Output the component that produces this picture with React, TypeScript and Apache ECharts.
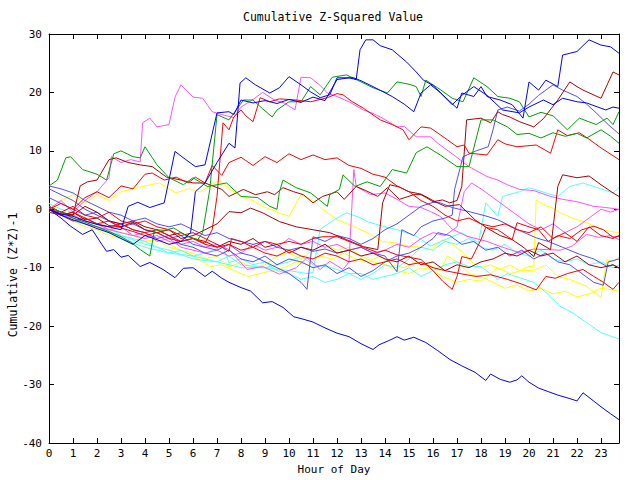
import React, { useEffect, useRef } from "react";
import * as echarts from "echarts";

const TITLE = "Cumulative Z-Squared Value";
const X_NAME = "Hour of Day";
const Y_NAME = "Cumulative (Z*Z)-1";
const X_MIN = 0;
const X_MAX = 23.75;
const Y_MIN = -40;
const Y_MAX = 30;

type Pt = [number, number];

const blueLow: Pt[] = [[0,0],[0.5,-1.5],[0.9,-2.9],[1.4,-4.3],[1.8,-3.5],[2.2,-6],[2.4,-7.2],[2.7,-6.9],[3,-8.2],[3.3,-7.9],[3.8,-9.8],[4.2,-9.1],[4.75,-10.3],[5.25,-11.7],[5.6,-10.1],[6,-10],[6.5,-11.5],[6.8,-10.6],[7.2,-11.8],[7.5,-12.5],[8,-13.4],[8.4,-14],[8.9,-16],[9.3,-15.8],[9.75,-16.8],[10.2,-18.4],[10.5,-18.7],[11,-19.3],[11.5,-20.3],[12,-21.2],[12.5,-21.8],[13,-23],[13.5,-24],[13.75,-23.2],[14.2,-22.4],[14.5,-21.8],[14.8,-22.4],[15.2,-21.9],[15.7,-22.8],[16.2,-24.2],[16.7,-25.7],[17.2,-26.8],[17.75,-27.9],[18.2,-29.3],[18.4,-28.2],[18.8,-29.1],[19.2,-29.6],[19.5,-29.2],[19.7,-28.5],[20,-29.6],[20.4,-30.6],[20.8,-31.2],[21.2,-31.8],[21.7,-32.4],[22,-32.8],[22.25,-31.4],[22.5,-32.2],[23,-33.8],[23.4,-35],[23.75,-36]];
const blueTop1: Pt[] = [[0,0],[0.5,-0.8],[1,-1.2],[1.5,-2],[2,-2.6],[2.5,-3],[3,-3.5],[3.3,0.5],[3.7,1.2],[4.2,0.3],[4.8,1.1],[5.25,9.9],[5.7,8.5],[6.1,7.3],[6.5,7.6],[7,16.5],[7.5,16.7],[7.7,16.2],[8,18.7],[8.5,18.2],[9,18.6],[9.5,18.1],[10,18.8],[10.5,18.3],[11,19.2],[11.5,18.6],[12,22.2],[12.5,22.5],[12.8,22.2],[12.96,27.3],[13.2,29],[13.5,29],[13.8,28],[14.3,27.3],[14.9,25.2],[15.3,23.5],[15.6,22.1],[16,21.2],[16.4,19.6],[17,17.3],[17.2,19.9],[17.7,19.3],[18,21],[18.25,19.3],[18.8,18.7],[19.3,17.9],[19.75,15.6],[20,21.8],[20.4,20.4],[20.7,22.1],[21.2,21],[21.4,26.4],[22,27],[22.5,29],[23,28.1],[23.4,27.8],[23.75,26.7]];
const blueTop2: Pt[] = [[0,0],[0.5,-1],[1,-1.8],[1.5,-2.5],[2,-3.3],[2.5,-4],[3,-5],[3.5,-6],[4,-4.5],[4.5,-5.2],[5,-6],[5.5,-5.5],[5.9,-4],[6.1,3],[6.5,4.5],[7,8],[7.5,11.3],[7.75,10.5],[7.96,21.6],[8.2,22.5],[8.6,21.3],[9.2,19.9],[9.6,20.8],[10,22.7],[10.5,21.3],[10.9,20.1],[11.3,19.1],[11.7,19.6],[12,22.5],[12.7,22.5],[13,22],[13.5,21],[14.3,19.3],[14.8,18],[15.2,16.7],[15.5,19.9],[15.9,21.3],[16.3,20],[16.8,17.9],[17.2,19.5],[17.7,21],[18.25,19.5],[18.9,17],[19.6,16.5],[20,17.5],[20.6,18.7],[21,17.9],[21.4,19],[22,18.4],[22.4,18.2],[23.2,17],[23.5,17.5],[23.75,17.3]];
const slate1: Pt[] = [[0,4],[0.5,3.5],[1,2.8],[1.5,1.5],[2,0.5],[2.5,-0.5],[3,-1],[3.5,-2],[4,-1.5],[4.5,-2.5],[5,-3],[5.5,-2.5],[6,-3.5],[6.5,-4.5],[7,-4],[7.5,-5],[8,-5.5],[8.5,-6],[9,-5.5],[9.5,-6.5],[10,-7],[10.5,-6.5],[11,-7.2],[11.5,-6.8],[12,-7.5],[12.5,-7],[13,-6.5],[13.5,-7.5],[14,-8],[14.5,-10.7],[14.7,-3.5],[15.2,-4.5],[15.5,-3],[16,-2],[16.5,-1.5],[16.8,-1],[16.9,3.4],[17.25,9],[17.8,10],[18.3,10.7],[18.5,13.6],[18.7,17],[19.1,17.5],[19.6,16.8],[20,18],[20.4,19.5],[21,21.3],[21.4,20.4],[22,19.3],[22.4,18],[22.8,16.5],[23.3,14.5],[23.75,12.9]];
const slate2: Pt[] = [[0,3.5],[0.5,2.5],[1,1.5],[1.5,0],[2,-1],[2.5,-2],[3,-3],[3.5,-2.5],[4,-3.5],[4.5,-4],[5,-5],[5.5,-4.5],[6,-6],[6.5,-6.5],[7,-7],[7.5,-6],[8,-7.5],[8.5,-8],[9,-9],[9.5,-10],[10,-11],[10.5,-12.5],[10.75,-13.7],[11,-4.7],[11.5,-5.5],[12,-4.5],[12.5,-5],[13,-6],[13.5,-5],[14,-3.5],[14.5,-2.5],[15,-1],[15.5,0.5],[16,1.2],[16.3,1.1],[16.8,0.3],[17.5,-0.4],[18.25,-1.2],[18.7,-1.8],[19.1,-2.6],[19.7,-3.8],[20.3,-4.9],[20.8,-5.5],[21.4,-6.5],[22.1,-7.7],[22.7,-8.5],[23.25,-9.8],[23.5,-9.5],[23.75,-10.1]];
const slate3: Pt[] = [[0,2],[0.5,1],[1,0],[1.5,-1],[2,-0.5],[2.5,-2],[3,-2.5],[3.5,-3.5],[4,-4],[4.5,-5],[5,-4.5],[5.5,-6],[6,-6.5],[6.5,-7.5],[7,-8],[7.5,-7],[8,-8.5],[8.5,-9],[9,-8],[9.5,-9.5],[10,-8.5],[10.5,-9],[11,-10],[11.5,-9.5],[12,-11],[12.5,-10],[13,-11.5],[13.5,-10.5],[14,-9],[14.5,-8],[15,-7.5],[15.5,-6.5],[16,-5],[16.2,-4],[16.7,-4.5],[17.2,-6],[17.7,-5.5],[18.2,-7],[18.7,-6.5],[19.2,-8],[19.7,-7],[20.2,-8.5],[20.7,-7.5],[21.2,-9],[21.7,-9.5],[22.2,-11],[22.7,-12.5],[23.1,-13],[23.3,-9],[23.75,-8.5]];
const green1: Pt[] = [[0,0.5],[0.5,-0.5],[1,-1.5],[1.5,-2.2],[2,-3],[2.5,-3.8],[3,-4.7],[3.4,-5.6],[3.8,-6.9],[4.2,-8],[4.4,-3.5],[4.8,-3.6],[5.2,-3.2],[5.75,-4.6],[6.2,-5.2],[6.4,-4],[6.7,3.4],[7,16.2],[7.5,15.3],[8.1,18.7],[8.5,18.7],[8.9,17.2],[9.3,15.8],[9.5,17],[10,18.4],[10.5,18.4],[10.9,21],[11.3,19.6],[11.8,22.6],[12.4,23],[13,21.8],[13.5,20.8],[14.1,19.9],[14.5,21.8],[15,21.4],[15.3,21],[15.5,19.3],[15.7,22.1],[16.3,20.5],[16.8,19],[17.25,18.4],[17.7,22.5],[18.25,21],[18.7,19.3],[19.2,19],[19.6,18.4],[20,15.8],[20.5,16.6],[21,16],[21.6,13.6],[22.1,15.6],[22.8,14.5],[23.25,15.6],[23.5,14.5],[23.75,16.7]];
const green2: Pt[] = [[0,4],[0.35,5],[0.7,8.8],[0.9,9],[1.4,6.8],[2,6],[2.4,5],[2.7,9.5],[3,10],[3.5,9],[3.8,8.8],[4,10.7],[4.5,7.6],[5,5.4],[5.6,4.2],[6,5.4],[6.6,3.9],[7,4.2],[7.4,4.5],[8,2.2],[8.7,2],[9.2,0.5],[9.5,0],[9.6,3],[9.75,5],[10.3,3.7],[10.9,2.8],[11.3,1.5],[11.6,0.5],[11.7,2.5],[12.1,3.4],[12.25,5.9],[12.75,3.9],[13.25,4.7],[13.8,3.9],[14.3,6.8],[14.9,6.2],[15.3,9.7],[15.75,10.7],[16.3,9.3],[17,7.3],[17.5,7.3],[18,15.3],[18.5,15.3],[19.1,14.1],[19.5,12.8],[20,13],[20.5,12.2],[21,13.1],[21.5,12.5],[22,13],[22.4,12.2],[23,13.6],[23.4,12.5],[23.75,11.3]];
const red1: Pt[] = [[0,0],[0.5,-1],[1,-0.5],[1.5,-1.5],[2,-2.5],[2.5,-2],[3,-3.2],[3.5,-3.8],[4,-4.5],[4.5,-4],[5,-5],[5.5,-5.5],[6,-5],[6.5,-5.8],[6.8,-3.5],[7,2.2],[7.25,14.8],[7.5,13.6],[7.7,15.8],[8,17],[8.2,16],[8.5,15],[8.8,19.1],[9.2,18.4],[9.6,18.9],[10.3,18.7],[10.9,18.4],[11.3,18.8],[11.6,19.1],[12,19.8],[12.25,19.6],[12.6,18.5],[13.1,17.3],[13.8,15.3],[14.3,14.5],[14.75,13.6],[15,11.9],[15.5,14.1],[15.9,13.9],[16.6,11.9],[17,10.7],[17.3,11],[17.5,9.6],[18.25,9.3],[18.7,11.9],[19,11.2],[19.5,10.7],[20.3,11],[20.9,9.6],[21.2,13.6],[21.6,12.6],[22.1,13.1],[22.5,12],[23,10.5],[23.75,8.5]];
const red2: Pt[] = [[0,0],[0.5,-0.5],[1,0.5],[1.5,-1],[2,-1.5],[2.5,-0.5],[3,-2],[3.5,-2.5],[4,-2],[4.5,-3],[5,-3.5],[5.5,-4.5],[6,-4],[6.5,-5],[7,-6],[7.5,-7.2],[7.6,-5],[8,-5.5],[8.5,-6.5],[9,-5.5],[9.5,-6],[10,-5.5],[10.5,-6],[11,-5],[11.4,-4.7],[12,-4.7],[12.5,-5.5],[13.1,-6.5],[13.7,-7.4],[14,-7],[14.5,-7.8],[15,-8.2],[15.5,-8.6],[16,-10.5],[16.4,-12.3],[16.8,-13.7],[17,-11.5],[17.2,-8.1],[17.6,-8.5],[18,-5.2],[18.2,-3.1],[18.7,-3.5],[19.3,-5.2],[19.5,-2.3],[20,-3],[20.4,-3.5],[20.8,-5.5],[21.2,-4.5],[21.7,-5],[22.2,-3.5],[22.7,-2.9],[23.1,-3.5],[23.5,-4.8],[23.75,-4.6]];
const red3: Pt[] = [[0,-0.5],[0.5,-1],[1,-2],[1.5,-1.5],[2,-2.5],[2.5,-3],[3,-2.5],[3.5,-3.5],[4,-4],[4.5,-3.5],[5,-4.5],[5.5,-5.5],[6,-5],[6.5,-6],[7,-6.5],[7.5,-6],[8,-7],[8.5,-6.5],[9,-7.5],[9.5,-8],[10,-7],[10.5,-8],[11,-8.5],[11.5,-7.5],[12,-8],[12.5,-9],[13,-8.5],[13.5,-9.5],[14,-9],[14.5,-8.5],[15,-9.5],[15.5,-9.1],[16,-10],[16.5,-10.5],[17.25,-11.1],[17.8,-11.5],[18.4,-11.2],[19.1,-12],[19.7,-12.8],[20.3,-13.8],[20.7,-11.5],[21.1,-11.8],[21.6,-11],[22.25,-10.3],[22.7,-11.5],[23.1,-12.5],[23.5,-13.7],[23.75,-12.5]];
const red4: Pt[] = [[0,0],[0.5,1],[1,0],[1.5,2],[2,3],[2.5,2],[3,4],[3.5,3.5],[4,6],[4.3,6.2],[4.8,5],[5.3,5.5],[5.8,4.5],[6.1,5.5],[6.5,4.5],[6.8,7.5],[7.2,5.8],[7.5,8],[8,8.9],[8.5,7.5],[9,9],[9.5,8],[10,9.5],[10.5,8.5],[11,9.3],[11.5,8.5],[12,8.8],[12.5,7.5],[13,7],[13.5,6],[14,5.5],[14.5,4],[15,3],[15.5,1.5],[16,0.5],[16.5,-1],[17,-2],[17.5,-1.5],[18,-2.5],[18.5,-3],[19,-2.5],[19.5,-3.5],[20,-4],[20.5,-3],[21,-5],[21.5,-4],[22,-5.5],[22.5,-3],[23,-4.5],[23.5,-5],[23.75,-4.5]];
const darkRed1: Pt[] = [[0,0],[0.5,-0.8],[1,-1],[1.3,4],[1.6,4.7],[2,5],[2.5,8.5],[2.8,8.8],[3.3,8],[3.8,7.6],[4.3,7.3],[4.9,5.5],[5.5,5],[6,4.5],[6.5,4.5],[7.2,3.4],[7.5,2.2],[8.1,3.4],[8.6,2.5],[9.1,3],[9.4,2.5],[9.75,3.7],[10.2,3],[10.6,2.5],[11,1.1],[11.4,2.2],[12,3],[12.3,1.7],[12.8,3.9],[13.2,3.2],[13.7,2.2],[14.1,3.7],[14.6,1.7],[15.2,2.5],[15.5,2.5],[15.8,1.8],[16,1.3],[16.4,1.6],[16.7,1.1],[17,1.5],[17.2,3.9],[17.4,15.3],[18,15.6],[18.4,14.8],[18.7,16.7],[18.9,16.2],[19.2,15.8],[19.6,15],[20.2,14.1],[20.6,15.5],[21.2,18.7],[21.7,21.8],[22,21],[22.25,20.4],[23,19],[23.5,23.5],[23.75,23]];
const darkRed2: Pt[] = [[0,0],[0.5,-1],[1,-0.5],[1.5,-1.8],[2,-1.5],[2.5,-2.8],[3,-3],[3.5,-2.2],[4,-3.5],[4.5,-4],[5,-3.5],[5.5,-5],[6,-4.5],[6.5,-3.5],[7,-2.5],[7.5,-0.4],[8,-0.6],[8.4,0.2],[8.9,-0.6],[9.6,-2.1],[10.3,-3],[11,-3.5],[11.7,-4],[12.4,-5.2],[13.1,-6.4],[13.7,-6.9],[13.9,1.1],[14.2,4.2],[14.6,3.8],[15,3],[15.5,2.6],[16,1.5],[16.5,0.5],[17.1,0.8],[17.75,-1.8],[18.25,-3.2],[18.8,-4.5],[19.3,-5.2],[19.8,-6.6],[20.2,-8.1],[20.4,-5.7],[20.9,-6.9],[21.2,3.9],[21.4,5.9],[22,5.4],[22.5,5.7],[23,4.2],[23.5,2.8],[23.75,2.2]];
const darkRed3: Pt[] = [[0,0.5],[0.5,-0.5],[1,-1],[1.5,0.5],[2,-0.5],[2.5,-2],[3,-2.5],[3.5,-2],[4,-3],[4.5,-3.5],[5,-4.5],[5.5,-4],[6,-5],[6.5,-5.5],[7,-6.5],[7.5,-5.5],[8,-6],[8.5,-5],[9,-6.5],[9.5,-6],[10,-7.5],[10.5,-6.5],[11,-7],[11.5,-6],[12,-7.5],[12.5,-7],[13,-8],[13.5,-7.5],[14,-8.5],[14.5,-9],[15,-8],[15.5,-9.5],[16,-9],[16.5,-10.5],[17,-9.5],[17.5,-10],[18,-9],[18.5,-8.5],[19,-7.5],[19.5,-8],[20,-7],[20.5,-8],[21,-7.5],[21.5,-9],[22,-8],[22.5,-9.5],[23,-10],[23.5,-9.5],[23.75,-10]];
const magenta1: Pt[] = [[0,0],[0.5,1.5],[1,-0.5],[1.5,1.5],[2,3],[2.5,5.4],[2.6,9],[3,8],[3.4,8.5],[3.8,8.1],[3.9,14.8],[4.2,15.6],[4.5,14.1],[5,14.5],[5.25,19.2],[5.5,21.3],[6,19.2],[6.4,19],[6.8,16.7],[7.2,16.2],[7.7,15.7],[8,17.5],[8.5,18.8],[8.9,20],[9.4,18.7],[9.8,18.2],[10.25,17],[10.5,22.6],[10.9,22.5],[11.3,21.2],[11.6,19.9],[12,19.3],[12.5,18.4],[13.1,17],[13.5,16.4],[13.9,15.6],[14.5,14.1],[14.8,14.2],[15.3,12.4],[15.9,12.4],[16.2,11.3],[16.8,9.5],[17.5,7.3],[18.25,5.6],[18.7,5],[19.1,4.2],[19.6,3.4],[20.2,3.2],[20.9,2.2],[21.4,1.7],[22,1.3],[22.7,0.5],[23.2,0.3],[23.75,0]];
const magenta2: Pt[] = [[0,0],[0.5,-1],[1,-1.5],[1.5,-2.5],[2,-3],[2.5,-3.5],[3,-4],[3.5,-4.5],[4,-5],[4.5,-4.5],[5,-5.5],[5.5,-6],[6,-5.5],[6.5,-6.5],[7,-6],[7.5,-6.9],[8.25,-10.3],[8.9,-9.8],[9.6,-11.1],[10.3,-10],[10.75,-8.3],[11.3,-10.3],[11.7,-8.9],[12.25,-10.3],[12.5,-9],[12.7,6.8],[12.8,3.9],[13.4,2.5],[14,2.8],[14.5,1.7],[15,0.5],[15.5,0.3],[15.9,-0.4],[16.3,-1.2],[16.8,-3.4],[17.4,-4.6],[18.25,-5.5],[18.9,-6.5],[19.6,-7.4],[20.2,-6.8],[20.75,-6.9],[21.3,-7],[21.8,-6.3],[22.4,-4.3],[22.9,-4.8],[23.4,-4.5],[23.75,-5.2]];
const magenta3: Pt[] = [[0,0.5],[0.5,-0.5],[1,-1],[1.5,-2],[2,-2.5],[2.5,-3.5],[3,-3],[3.5,-4.5],[4,-4],[4.5,-5.5],[5,-5],[5.5,-6.5],[6,-7],[6.5,-7.5],[7,-7],[7.5,-8],[8,-7.5],[8.5,-6],[9,-7],[9.5,-6.5],[10,-5],[10.5,-6],[11,-5.5],[11.5,-6.5],[12,-6],[12.5,-7],[13,-6.5],[13.5,-7.5],[14,-7],[14.5,-6],[15,-6.5],[15.5,-5],[16,-4],[16.5,-4.5],[17,-3],[17.3,3],[17.6,4.5],[18,3.5],[18.5,2],[19,0.5],[19.5,-1],[20,-2.5],[20.5,-3.5],[21,-2.5],[21.5,-4],[22,-3],[22.4,-1.8],[23,0],[23.4,-0.5],[23.75,0]];
const cyan1: Pt[] = [[0,0],[1,-1.5],[2,-3],[3,-4.5],[4,-6],[5,-7],[6,-8.5],[7,-9],[7.5,-8],[8,-9.5],[9,-10],[10,-9],[10.5,-8],[11,-9.5],[11.7,-9.9],[12.5,-11],[13,-11],[13.5,-12],[14,-11.5],[14.5,-11],[15,-10],[15.5,-11.5],[16,-10.5],[16.5,-9.5],[17,-9],[17.5,-9.8],[18,-9.8],[18.7,-12],[19.1,-11],[19.6,-11.7],[20.2,-12.5],[20.7,-14.2],[21.3,-16.6],[21.8,-17.7],[22.4,-19.4],[23,-21.1],[23.4,-21.7],[23.75,-22.2]];
const cyan2: Pt[] = [[0,0],[1,-2],[2,-3],[3,-5],[4,-6.5],[5,-7.5],[6,-8],[7,-9],[8,-10],[9,-10],[10,-10.5],[10.75,-11],[11,-10.8],[11.3,-3.4],[12,-1.5],[12.4,-0.6],[13,-1.5],[13.25,-2.1],[14,-3],[14.5,-3.5],[15.3,-4.6],[15.9,-6.3],[16.5,-5.2],[17.2,-4],[17.9,-5.7],[18.2,1.1],[18.7,-1.2],[18.9,2.2],[19.6,3],[20,3.7],[20.7,2.8],[21.2,2.2],[21.7,3.9],[22.25,4.5],[23,3.5],[23.5,2.8],[23.75,3.7]];
const cyan3: Pt[] = [[0,1],[0.5,0],[1,-0.5],[1.5,-1.5],[2,-2.5],[2.5,-3],[3,-4.5],[3.5,-5],[4,-5.5],[4.5,-6.5],[5,-7.5],[5.5,-7],[6,-8],[6.6,-7.4],[7.25,-6.3],[7.5,-9.1],[8,-8.5],[8.5,-9.5],[9,-9],[9.5,-10.5],[10,-11],[10.5,-12],[11,-11.5],[11.5,-12.5],[12,-12],[12.5,-11],[13,-12],[13.5,-11],[14,-9.5],[14.5,-10],[15,-8.5],[15.5,-6.5],[16,-7],[16.5,-5.5],[17,-6],[17.5,-5],[18,-6.5],[18.5,-7],[19,-6],[19.5,-7.5],[20,-8],[20.5,-7],[21,-8.5],[21.5,-9],[22,-8.5],[22.5,-9.5],[23,-9],[23.5,-10],[23.75,-9.5]];
const yellow1: Pt[] = [[0,0],[0.5,1.5],[1,2.5],[1.5,1],[2,2.5],[2.5,1.5],[3,3],[3.5,3.5],[4,4],[4.6,4.5],[5.3,2.8],[5.8,3.5],[6.3,3],[7.1,5],[7.5,3.5],[8,2.2],[8.5,1.5],[8.9,0.5],[9.5,-0.5],[10,-1.2],[10.5,2.5],[11,1.5],[11.4,0],[12,-1.8],[12.5,-2.6],[13,-3.5],[13.4,-4.3],[13.9,-5.5],[14.5,-5.8],[15,-6.3],[15.5,-6.5],[15.9,-6.9],[16.4,-5.2],[16.8,-6],[17.25,-7.4],[17.6,-9],[18,-10],[18.4,-9.5],[18.8,-10.3],[19.2,-9.5],[19.6,-10.5],[20,-9.8],[20.2,-9.8],[20.3,1.6],[20.6,0.8],[21,0.2],[21.3,-0.6],[21.8,-1.5],[22.4,-2.3],[23,-3.4],[23.4,-3.8],[23.75,-4]];
const yellow2: Pt[] = [[0,-0.5],[0.5,-1],[1,-2],[1.5,-3],[2,-3.5],[2.5,-4.5],[3,-5],[3.5,-6],[4,-5.5],[4.5,-5.2],[5,-6.5],[5.5,-7],[6,-7.5],[6.5,-8.5],[7,-8],[7.5,-9.9],[8,-9],[8.5,-10],[9,-9.5],[9.5,-8],[10,-7.5],[10.5,-8.5],[11,-7],[11.5,-6],[12,-7],[12.5,-6.5],[13,-8],[13.5,-9],[14,-9.5],[14.5,-10.5],[15,-11],[15.5,-10],[15.9,-10.3],[16.4,-11.5],[17,-12.5],[17.5,-12],[18,-12.3],[18.7,-10],[19.2,-11],[19.7,-10.5],[20.2,-10.5],[20.7,-9.5],[21.2,-11.5],[21.7,-12],[22.4,-13.2],[23,-15.1],[23.1,-12],[23.25,-8.6],[23.5,-9],[23.75,-8.2]];
const yellow3: Pt[] = [[0,0.5],[0.5,-0.5],[1,-1],[1.5,-2],[2,-2.5],[2.5,-3.5],[3,-4],[3.5,-4.5],[4,-5.5],[4.5,-5.2],[5,-6],[5.6,-7.2],[6.2,-8.5],[6.7,-9.8],[7.2,-9.5],[7.7,-10.5],[8.3,-11.5],[8.8,-11],[9.3,-10.5],[9.8,-10],[10.3,-9],[10.8,-9.5],[11.3,-8],[11.8,-8.5],[12.3,-7.5],[12.8,-8.5],[13.3,-9],[13.8,-8],[14.3,-9.5],[14.8,-10],[15.3,-9],[15.8,-9.5],[16.3,-10.5],[16.6,-8],[17,-9],[17.5,-11],[18,-11.5],[18.5,-12.5],[19,-13.5],[19.5,-13],[20,-14],[20.5,-13.5],[21,-14.5],[21.5,-14],[22,-15],[22.5,-14.5],[23,-13.5],[23.75,-14]];

const BLUE = "#0000ff";
const SLATE = "#5050ff";
const GREEN = "#00a000";
const RED = "#ff0000";
const DARKRED = "#b00000";
const MAGENTA = "#ff50ff";
const CYAN = "#50ffff";
const YELLOW = "#ffff00";

const lines: { data: Pt[]; color: string }[] = [
  { data: yellow3, color: YELLOW },
  { data: yellow2, color: YELLOW },
  { data: yellow1, color: YELLOW },
  { data: cyan3, color: CYAN },
  { data: cyan1, color: CYAN },
  { data: cyan2, color: CYAN },
  { data: magenta3, color: MAGENTA },
  { data: magenta2, color: MAGENTA },
  { data: magenta1, color: MAGENTA },
  { data: slate3, color: SLATE },
  { data: slate2, color: SLATE },
  { data: slate1, color: SLATE },
  { data: darkRed3, color: DARKRED },
  { data: darkRed2, color: DARKRED },
  { data: darkRed1, color: DARKRED },
  { data: red3, color: RED },
  { data: red2, color: RED },
  { data: red4, color: RED },
  { data: red1, color: RED },
  { data: green1, color: GREEN },
  { data: green2, color: GREEN },
  { data: blueTop2, color: BLUE },
  { data: blueTop1, color: BLUE },
  { data: blueLow, color: BLUE },
];

const FONT = "DejaVu Sans Mono";

export default function App() {
  const ref = useRef<HTMLDivElement>(null);
  useEffect(() => {
    if (!ref.current) return;
    const chart = echarts.init(ref.current, null, { renderer: "svg" });
    const axisCommon = {
      type: "value" as const,
      splitLine: { show: false },
      axisLine: { show: true, onZero: false, lineStyle: { color: "#000", width: 1 } },
      axisTick: { show: true, inside: true, length: 5, lineStyle: { color: "#000", width: 1 } },
    };
    chart.setOption({
      animation: false,
      backgroundColor: "#fff",
      grid: { left: 49, right: 21, top: 34, bottom: 36, show: false },
      xAxis: [
        {
          ...axisCommon,
          min: X_MIN,
          max: X_MAX,
          interval: 1,
          position: "bottom",
          axisLabel: {
            margin: 5,
            fontFamily: FONT,
            fontSize: 11,
            color: "#000",
            formatter: (v: number) => (Number.isInteger(v) ? String(v) : ""),
          },
          name: X_NAME,
          nameLocation: "middle",
          nameGap: 21,
          nameTextStyle: { fontFamily: FONT, fontSize: 11, color: "#000" },
        },
        {
          ...axisCommon,
          min: X_MIN,
          max: X_MAX,
          interval: 1,
          position: "top",
          axisLabel: { show: false },
        },
      ],
      yAxis: [
        {
          ...axisCommon,
          min: Y_MIN,
          max: Y_MAX,
          interval: 10,
          position: "left",
          axisLabel: { margin: 7, fontFamily: FONT, fontSize: 11, color: "#000" },
        },
        {
          ...axisCommon,
          min: Y_MIN,
          max: Y_MAX,
          interval: 10,
          position: "right",
          axisLabel: { show: false },
        },
      ],
      graphic: [
        {
          type: "text",
          x: 333,
          y: 17,
          style: {
            text: TITLE,
            fontFamily: FONT,
            fontSize: 11.5,
            fill: "#000",
            textAlign: "center",
            textVerticalAlign: "middle",
          },
        },
        {
          type: "text",
          x: 13,
          y: 275,
          rotation: Math.PI / 2,
          style: {
            text: Y_NAME,
            fontFamily: FONT,
            fontSize: 11.5,
            fill: "#000",
            textAlign: "center",
            textVerticalAlign: "middle",
          },
        },
      ],
      series: lines.map((l) => ({
        type: "line",
        data: l.data,
        showSymbol: false,
        symbol: "none",
        lineStyle: { color: l.color, width: 1 },
        itemStyle: { color: l.color },
        emphasis: { disabled: true },
        silent: true,
      })),
    });
    return () => chart.dispose();
  }, []);
  return (
    <div
      ref={ref}
      style={{ position: "fixed", left: 0, top: 0, width: 640, height: 480, background: "#fff" }}
    />
  );
}
